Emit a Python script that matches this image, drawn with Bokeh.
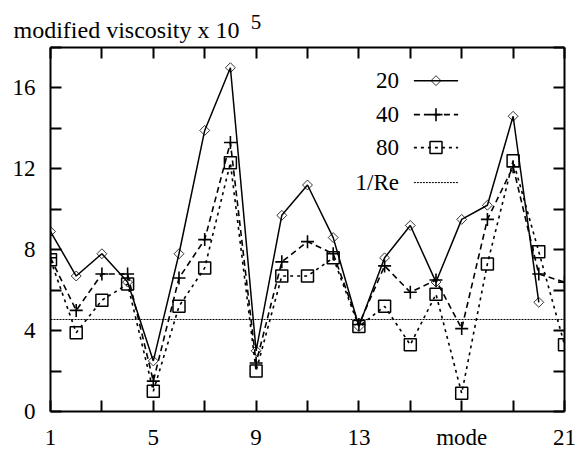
import numpy as np
from bokeh.plotting import figure
from bokeh.models import LinearAxis, FixedTicker, Span, Range1d
from bokeh.core.properties import value
from bokeh.embed import file_html
from bokeh.resources import INLINE

# ---- data ----
modes_20 = list(range(1, 21))
visc_20 = [8.9, 6.7, 7.8, 6.4, 2.5, 7.8, 13.9, 17.0, 3.0, 9.7, 11.2, 8.6, 4.2, 7.6, 9.2, 6.4, 9.5, 10.2, 14.6, 5.4]
modes_40 = list(range(1, 22))
visc_40 = [7.6, 5.0, 6.8, 6.8, 1.5, 6.6, 8.5, 13.3, 2.4, 7.4, 8.4, 7.8, 4.3, 7.2, 5.9, 6.5, 4.1, 9.5, 12.1, 6.8, 6.4]
modes_80 = list(range(1, 22))
visc_80 = [7.5, 3.9, 5.5, 6.3, 1.0, 5.2, 7.1, 12.3, 2.0, 6.7, 6.7, 7.6, 4.2, 5.2, 3.3, 5.8, 0.9, 7.3, 12.4, 7.9, 3.3]
inv_re = 4.55
series_names = ["20", "40", "80", "1/Re"]

x_ticks = list(range(1, 22, 2))
x_tick_labels = {1: "1", 5: "5", 9: "9", 13: "13", 17: "mode", 21: "21"}
y_ticks = list(range(0, 19, 2))
y_tick_labels = {0: "0", 4: "4", 8: "8", 12: "12", 16: "16"}
title_text = "modified viscosity x 10"
title_sup = "5"
sup_at = 9  # the exponent sits over this top tick

FONT = "Liberation Serif"
FS = "23px"

p = figure(width=576, height=452, x_range=Range1d(1, 21), y_range=Range1d(0, 18),
           output_backend="svg", toolbar_location=None,
           min_border_left=50, min_border_right=12, min_border_top=47, min_border_bottom=41)
p.xgrid.grid_line_color = None
p.ygrid.grid_line_color = None
p.outline_line_color = None
p.background_fill_color = "white"
p.border_fill_color = "white"

p.title.text = title_text
p.title.text_font = FONT
p.title.text_font_size = "24px"
p.title.text_font_style = "normal"
p.title.text_color = "black"
p.title.align = "left"
p.title.offset = -37
p.title.standoff = -62

def style_axis(ax, ticks, labels, size):
    ax.ticker = FixedTicker(ticks=ticks)
    ax.major_label_overrides = {t: labels.get(t, "") for t in ticks}
    ax.major_tick_in = 11
    ax.major_tick_out = 0
    ax.minor_tick_line_color = None
    ax.major_tick_line_width = 2
    ax.axis_line_width = 2
    ax.axis_line_color = "black"
    ax.major_tick_line_color = "black"
    ax.major_label_text_font = FONT
    ax.major_label_text_color = "black"
    ax.major_label_text_font_size = size

xa = p.xaxis[0]
style_axis(xa, x_ticks, x_tick_labels, FS)
xa.major_label_standoff = 13
ya = p.yaxis[0]
style_axis(ya, y_ticks, y_tick_labels, FS)
ya.major_label_standoff = 15

# top axis: mirror ticks, carries the exponent of the title
top = LinearAxis()
style_axis(top, x_ticks, {sup_at: title_sup}, "21px")
top.major_label_standoff = 19
p.add_layout(top, "above")
right = LinearAxis()
style_axis(right, y_ticks, {}, "0px")
right.major_label_standoff = 0
p.add_layout(right, "right")

# reference line
p.add_layout(Span(location=inv_re, dimension="width", line_color="black",
                  line_width=1, line_dash="2 1"))

# series
p.line(modes_20, visc_20, line_color="black", line_width=1.5)
p.scatter(modes_20, visc_20, marker="square", angle=np.pi / 4, size=7,
          line_color="black", line_width=0.8, fill_color=None)

p.line(modes_40, visc_40, line_color="black", line_width=1.6, line_dash="6 4")
p.scatter(modes_40, visc_40, marker="cross", size=13,
          line_color="black", line_width=1.6)

p.line(modes_80, visc_80, line_color="black", line_width=1.6, line_dash="3 4")
p.scatter(modes_80, visc_80, marker="square", size=12,
          line_color="black", line_width=1.5, fill_color=None)

# legend (label left, sample right), positioned in data space
leg_text_x = 14.56
leg_x0, leg_x1 = 15.14, 16.86
leg_y = [16.36, 14.68, 13.05, 11.32]
p.text([leg_text_x] * 4, leg_y, text=series_names, text_align="right",
       text_baseline="middle", text_font=value(FONT), text_font_size=FS,
       text_color="black")
dashes = ["solid", "6 4", "3 4", "2 1"]
widths = [1.5, 1.6, 1.6, 1]
for yy, d, w in zip(leg_y, dashes, widths):
    p.line([leg_x0, leg_x1], [yy, yy], line_color="black", line_width=w, line_dash=d)
xm = (leg_x0 + leg_x1) / 2
p.scatter([xm], [leg_y[0]], marker="square", angle=np.pi / 4, size=7,
          line_color="black", line_width=0.8, fill_color=None)
p.scatter([xm], [leg_y[1]], marker="cross", size=13, line_color="black", line_width=1.6)
p.scatter([xm], [leg_y[2]], marker="square", size=12, line_color="black",
          line_width=1.5, fill_color=None)

open("out.html", "w").write(file_html(p, INLINE))
